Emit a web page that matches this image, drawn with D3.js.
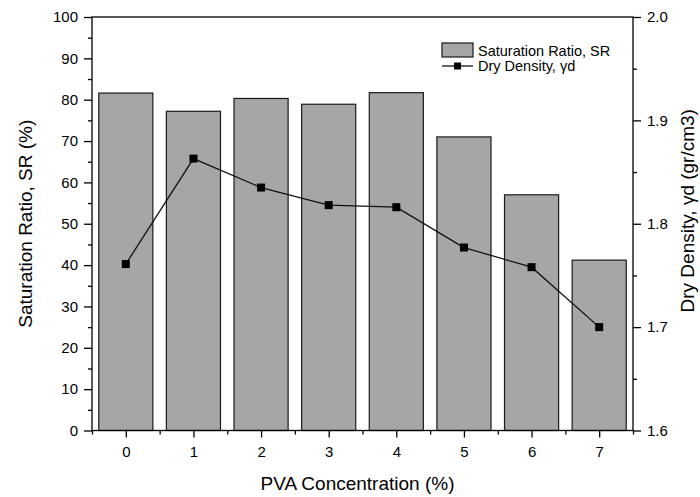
<!DOCTYPE html>
<html>
<head>
<meta charset="utf-8">
<script src="https://cdn.jsdelivr.net/npm/d3@7"></script>
<style>
  html, body { margin: 0; padding: 0; background: #fff; }
  svg { display: block; font-family: "Liberation Sans", Arial, sans-serif; }
</style>
</head>
<body>
<svg id="chart" width="700" height="497"></svg>
<script>
// ---- data ----
const categories = [0, 1, 2, 3, 4, 5, 6, 7];
const saturationRatio = [81.6, 77.2, 80.3, 78.9, 81.7, 71.0, 57.0, 41.2];
const dryDensity = [1.761, 1.863, 1.835, 1.818, 1.816, 1.777, 1.758, 1.700];
const leftTicks = [0, 10, 20, 30, 40, 50, 60, 70, 80, 90, 100];
const rightTicks = [1.6, 1.7, 1.8, 1.9, 2.0];
const seriesNames = ["Saturation Ratio, SR", "Dry Density, γd"];
const axisTitles = { x: "PVA Concentration (%)", yLeft: "Saturation Ratio, SR (%)", yRight: "Dry Density, γd (gr/cm3)" };

// ---- layout ----
const svg = d3.select("#chart");
const L = 92, R = 633, T = 17, B = 430.5;

const x = d3.scaleBand().domain(categories).range([L, R]).paddingInner(0.2).paddingOuter(0.1);
const xPoint = d3.scalePoint().domain(categories).range([L, R]).padding(0.5);
const yL = d3.scaleLinear().domain([0, 100]).range([B, T]);
const yR = d3.scaleLinear().domain([1.6, 2.0]).range([B, T]);

// bars
svg.append("g").selectAll("rect").data(categories).join("rect")
  .attr("x", d => x(d))
  .attr("y", (d, i) => yL(saturationRatio[i]))
  .attr("width", x.bandwidth())
  .attr("height", (d, i) => B - yL(saturationRatio[i]))
  .attr("fill", "#a6a6a6")
  .attr("stroke", "#1a1a1a")
  .attr("stroke-width", 1.2);

// line
const line = d3.line().x((d, i) => xPoint(categories[i])).y(d => yR(d));
svg.append("path").datum(dryDensity)
  .attr("d", line).attr("fill", "none").attr("stroke", "#111").attr("stroke-width", 1.3);
svg.append("g").selectAll("rect").data(dryDensity).join("rect")
  .attr("x", (d, i) => xPoint(categories[i]) - 4)
  .attr("y", d => yR(d) - 4)
  .attr("width", 8).attr("height", 8)
  .attr("fill", "#000");

// frame
svg.append("rect").attr("x", L).attr("y", T).attr("width", R - L).attr("height", B - T)
  .attr("fill", "none").attr("stroke", "#000").attr("stroke-width", 1.3);

const tickStyle = g => {
  g.select(".domain").remove();
  g.selectAll("line").attr("stroke", "#000").attr("stroke-width", 1.3);
  g.selectAll("text").attr("fill", "#000").style("font-size", "15px")
    .style("font-family", '"Liberation Sans", Arial, sans-serif');
};

// left axis
const leftMinor = d3.range(0, 101, 5).filter(v => v % 10 !== 0);
svg.append("g").attr("transform", `translate(${L},0)`)
  .call(d3.axisLeft(yL).tickValues(leftMinor).tickSize(4).tickFormat(""))
  .call(tickStyle);
svg.append("g").attr("transform", `translate(${L},0)`)
  .call(d3.axisLeft(yL).tickValues(leftTicks).tickSize(8).tickPadding(6).tickFormat(d3.format("d")))
  .call(tickStyle);

// right axis
const rightMinor = [1.65, 1.75, 1.85, 1.95];
svg.append("g").attr("transform", `translate(${R},0)`)
  .call(d3.axisRight(yR).tickValues(rightMinor).tickSize(4).tickFormat(""))
  .call(tickStyle);
svg.append("g").attr("transform", `translate(${R},0)`)
  .call(d3.axisRight(yR).tickValues(rightTicks).tickSize(8).tickPadding(6).tickFormat(d3.format(".1f")))
  .call(tickStyle);

// bottom axis
const xb = d3.scaleLinear().domain([-0.5, 7.5]).range([L, R]);
svg.append("g").attr("transform", `translate(0,${B})`)
  .call(d3.axisBottom(xb).tickValues(d3.range(-0.5, 8, 1)).tickSize(4).tickFormat(""))
  .call(tickStyle);
svg.append("g").attr("transform", `translate(0,${B})`)
  .call(d3.axisBottom(xPoint).tickSize(7).tickPadding(9))
  .call(tickStyle);

// axis titles
svg.append("text").attr("x", (L + R) / 2 - 5).attr("y", 490)
  .attr("text-anchor", "middle").style("font-size", "19px").text(axisTitles.x);
svg.append("text").attr("transform", `translate(32,${(T + B) / 2}) rotate(-90)`)
  .attr("text-anchor", "middle").style("font-size", "19px").text(axisTitles.yLeft);
svg.append("text").attr("transform", `translate(694,${(T + B) / 2 - 13}) rotate(-90)`)
  .attr("text-anchor", "middle").style("font-size", "19px").text(axisTitles.yRight);

// legend
const lg = svg.append("g");
lg.append("rect").attr("x", 442).attr("y", 43).attr("width", 31).attr("height", 14)
  .attr("fill", "#a6a6a6").attr("stroke", "#1a1a1a").attr("stroke-width", 1.2);
lg.append("text").attr("x", 478).attr("y", 56).style("font-size", "14.5px").text(seriesNames[0]);
lg.append("line").attr("x1", 442).attr("x2", 473).attr("y1", 66).attr("y2", 66)
  .attr("stroke", "#111").attr("stroke-width", 1.3);
lg.append("rect").attr("x", 454).attr("y", 62.5).attr("width", 7).attr("height", 7).attr("fill", "#000");
lg.append("text").attr("x", 478).attr("y", 71).style("font-size", "14.5px").text(seriesNames[1]);
</script>
</body>
</html>
